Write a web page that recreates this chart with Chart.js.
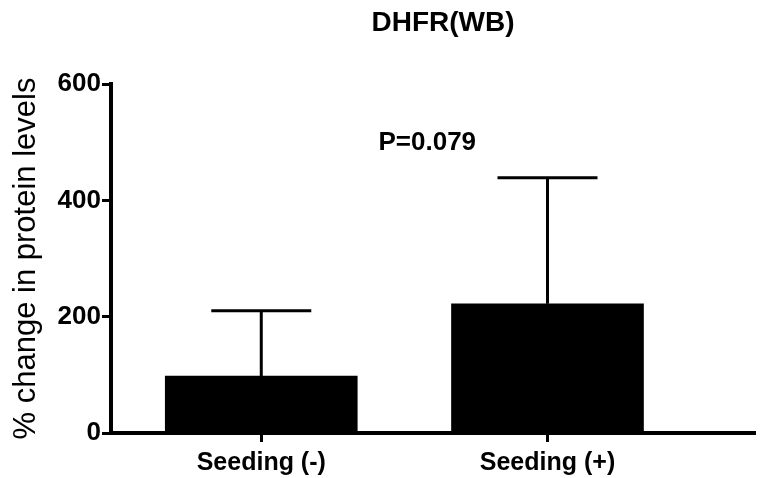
<!DOCTYPE html>
<html>
<head>
<meta charset="utf-8">
<script src="https://cdn.jsdelivr.net/npm/chart.js@4/dist/chart.umd.min.js"></script>
<style>
  html, body { margin: 0; padding: 0; background: #fff; }
  #wrap { width: 766px; height: 478px; }
</style>
</head>
<body>
<div id="wrap"><canvas id="myChart"></canvas></div>
<script>
// chart data
const categories = ['Seeding (-)', 'Seeding (+)'];
const xPositions = [1, 2];
const means = [98, 222];
const sdUpper = [112, 217];
const yTicks = [0, 200, 400, 600];
const chartTitle = 'DHFR(WB)';
const pText = 'P=0.079';
const pAt = { x: 1.58, y: 499 };

const FONT = "'Liberation Sans', Arial, sans-serif";

// draws the upper error bars, the P value and the title
const extras = {
    id: 'extras',
    afterDatasetsDraw(chart) {
        const ctx = chart.ctx;
        const xs = chart.scales.x, ys = chart.scales.y;
        ctx.save();
        ctx.strokeStyle = '#000';
        ctx.lineWidth = 3;
        means.forEach((m, i) => {
            const cx = xs.getPixelForValue(xPositions[i]);
            const yTop = ys.getPixelForValue(m + sdUpper[i]);
            const yBar = ys.getPixelForValue(m);
            ctx.beginPath();
            ctx.moveTo(cx, yBar);
            ctx.lineTo(cx, yTop);
            ctx.moveTo(cx - 50, yTop);
            ctx.lineTo(cx + 50, yTop);
            ctx.stroke();
        });
        ctx.fillStyle = '#000';
        ctx.textAlign = 'center';
        ctx.textBaseline = 'middle';
        ctx.font = 'bold 26px ' + FONT;
        ctx.fillText(pText, xs.getPixelForValue(pAt.x), ys.getPixelForValue(pAt.y));
        ctx.font = 'bold 28px ' + FONT;
        ctx.fillText(chartTitle, 443, 23);
        ctx.restore();
    }
};

document.addEventListener('DOMContentLoaded', function () {
    const ctx = document.getElementById('myChart').getContext('2d');
    new Chart(ctx, {
        type: 'bar',
        data: {
            datasets: [{
                data: xPositions.map((x, i) => ({ x: x, y: means[i] })),
                backgroundColor: '#000',
                borderWidth: 0,
                barThickness: 192
            }]
        },
        options: {
            responsive: true,
            maintainAspectRatio: false,
            animation: false,
            layout: { padding: { left: 0, right: 11, top: 84, bottom: 0 } },
            plugins: { legend: { display: false }, tooltip: { enabled: false } },
            scales: {
                x: {
                    type: 'linear',
                    offset: false,
                    min: 0.475,
                    max: 2.725,
                    afterBuildTicks: (scale) => { scale.ticks = xPositions.map(v => ({ value: v })); },
                    afterFit: (scale) => { scale.height = 45; },
                    grid: { display: true, offset: false, drawOnChartArea: false, drawTicks: true, tickLength: 9, tickWidth: 3, tickColor: '#000' },
                    border: { display: true, color: '#000', width: 4 },
                    ticks: {
                        color: '#000',
                        padding: 6,
                        maxRotation: 0,
                        font: { family: FONT, size: 25, weight: 'bold' },
                        callback: (v) => categories[xPositions.indexOf(v)]
                    }
                },
                y: {
                    min: 0,
                    max: 600,
                    afterBuildTicks: (scale) => { scale.ticks = yTicks.map(v => ({ value: v })); },
                    afterFit: (scale) => { scale.width = 111; },
                    grid: { display: true, drawOnChartArea: false, drawTicks: true, tickLength: 9, tickWidth: 3, tickColor: '#000' },
                    border: { display: true, color: '#000', width: 4 },
                    ticks: {
                        color: '#000',
                        padding: 1,
                        font: { family: FONT, size: 26, weight: 'bold' }
                    },
                    title: {
                        display: true,
                        text: '% change in protein levels',
                        color: '#000',
                        padding: { top: 8, bottom: 0 },
                        font: { family: FONT, size: 31 }
                    }
                }
            }
        },
        plugins: [extras]
    });
});
</script>
</body>
</html>
